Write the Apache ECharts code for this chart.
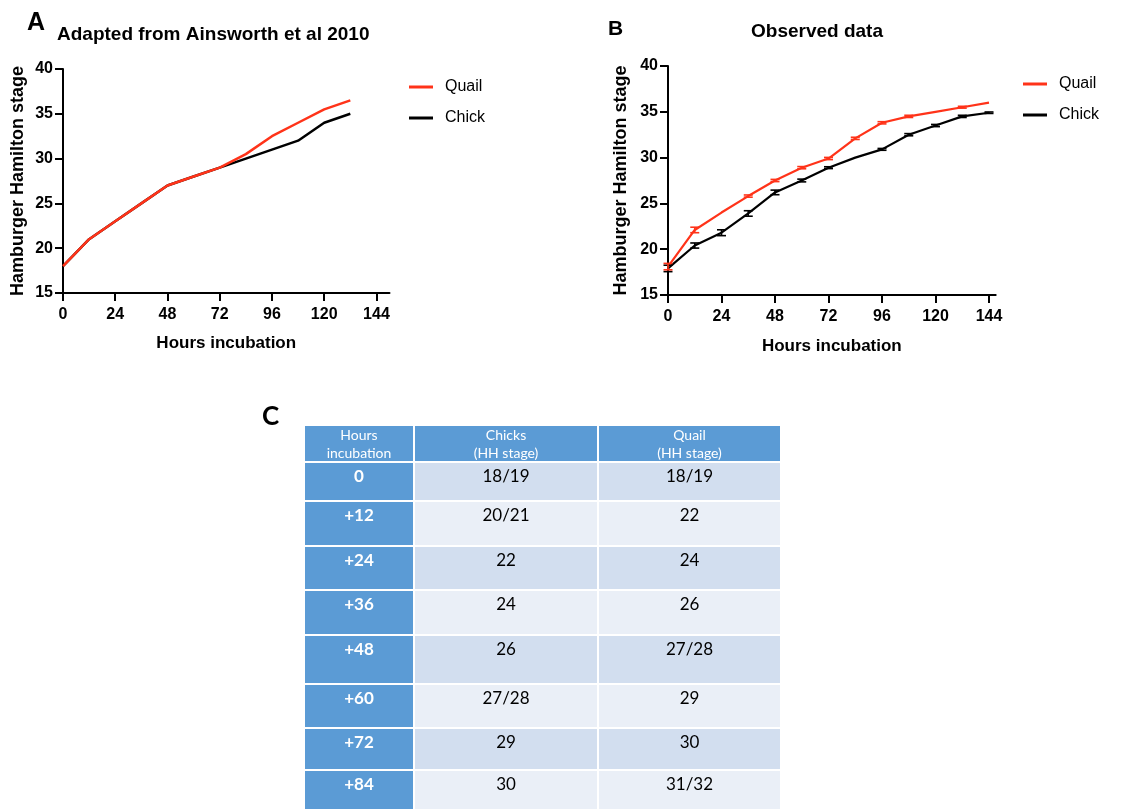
<!DOCTYPE html>
<html><head><meta charset="utf-8">
<script src="https://cdn.jsdelivr.net/npm/echarts@6.0.0/dist/echarts.min.js"></script>
<style>html,body{margin:0;padding:0;background:#fff}#c{width:1139px;height:809px}</style>
</head><body><div id="c"></div>
<script>
// ---------- data ----------
const hoursA = [0, 12, 24, 36, 48, 60, 72, 84, 96, 108, 120, 132];
const quailA = [18, 21, 23, 25, 27, 28, 29, 30.5, 32.5, 34, 35.5, 36.5];
const chickA = [18, 21, 23, 25, 27, 28, 29, 30, 31, 32, 34, 35];

const hoursB = [0, 12, 24, 36, 48, 60, 72, 84, 96, 108, 120, 132, 144];
const quailB = [18.1, 22.1, 24.0, 25.8, 27.5, 28.9, 29.9, 32.1, 33.8, 34.5, 35.0, 35.5, 36.0];
const quailErrB = [0.35, 0.3, 0, 0.12, 0.12, 0.12, 0.12, 0.12, 0.12, 0.12, 0, 0.1, 0];
const chickB = [17.9, 20.4, 21.8, 23.9, 26.2, 27.5, 28.9, 30.0, 30.9, 32.5, 33.5, 34.5, 34.9];
const chickErrB = [0.35, 0.28, 0.32, 0.3, 0.25, 0.15, 0.1, 0, 0.1, 0.12, 0.12, 0.12, 0.08];

const xTicks = [0, 24, 48, 72, 96, 120, 144];
const yTicks = [15, 20, 25, 30, 35, 40];

const tableHeader = ['Hours\nincubation', 'Chicks\n(HH stage)', 'Quail\n(HH stage)'];
const tableHours = ['0', '+12', '+24', '+36', '+48', '+60', '+72', '+84'];
const tableChicks = ['18/19', '20/21', '22', '24', '26', '27/28', '29', '30'];
const tableQuail = ['18/19', '22', '24', '26', '27/28', '29', '30', '31/32'];

// ---------- layout / style ----------
const F = '"Liberation Sans", Arial, sans-serif';
const RED = '#FF3319';
const BLACK = '#000000';
const BLUE = '#5B9BD5', BAND_D = '#D2DEEF', BAND_L = '#EAEFF7';
const colEdges = [0, 110, 294, 477];
const rowEdges = [0, 37, 76, 121, 165, 210, 259, 303, 345, 388];

function xAxisCfg(gi, max, gap) {
  return {
    type: 'value', gridIndex: gi, min: 0, max: max, interval: 24,
    name: 'Hours incubation', nameLocation: 'middle', nameGap: gap,
    nameTextStyle: { fontFamily: F, fontWeight: 'bold', fontSize: 17, color: '#000' },
    axisLine: { show: true, onZero: false, lineStyle: { color: '#000', width: 2 } },
    axisTick: { show: true, length: 8, lineStyle: { color: '#000', width: 2 }, customValues: xTicks },
    axisLabel: { color: '#000', fontFamily: F, fontWeight: 'bold', fontSize: 16, margin: 14, customValues: xTicks },
    splitLine: { show: false }
  };
}
function yAxisCfg(gi, gap) {
  return {
    type: 'value', gridIndex: gi, min: 15, max: 40, interval: 5,
    name: 'Hamburger Hamilton stage', nameLocation: 'middle', nameGap: gap,
    nameTextStyle: { fontFamily: F, fontWeight: 'bold', fontSize: 18, color: '#000' },
    axisLine: { show: true, onZero: false, lineStyle: { color: '#000', width: 2 } },
    axisTick: { show: true, length: 8, lineStyle: { color: '#000', width: 2 } },
    axisLabel: { color: '#000', fontFamily: F, fontWeight: 'bold', fontSize: 16, margin: 10 },
    splitLine: { show: false }
  };
}
function lineSeries(name, gi, xs, ys, color, width, z) {
  return {
    type: 'line', name: name, xAxisIndex: gi, yAxisIndex: gi,
    data: xs.map((x, i) => [x, ys[i]]),
    showSymbol: false, symbol: 'none', color: color,
    lineStyle: { color: color, width: width }, z: z, animation: false
  };
}
function errSeries(gi, xs, ys, es, color, z) {
  return {
    type: 'custom', name: 'err', xAxisIndex: gi, yAxisIndex: gi, silent: true, z: z,
    encode: { x: 0, y: 1 },
    data: xs.map((x, i) => [x, ys[i], es[i]]).filter(d => d[2] > 0),
    renderItem: function (params, api) {
      const x = api.value(0), y = api.value(1), e = api.value(2);
      const lo = api.coord([x, y - e]), hi = api.coord([x, y + e]);
      const w = 4.5, st = { stroke: color, lineWidth: 1.6 };
      return { type: 'group', children: [
        { type: 'line', shape: { x1: lo[0], y1: lo[1], x2: hi[0], y2: hi[1] }, style: st },
        { type: 'line', shape: { x1: lo[0] - w, y1: lo[1], x2: lo[0] + w, y2: lo[1] }, style: st },
        { type: 'line', shape: { x1: hi[0] - w, y1: hi[1], x2: hi[0] + w, y2: hi[1] }, style: st }
      ] };
    }
  };
}

const cells = [];
for (let r = 0; r <= tableHours.length; r++) for (let c = 0; c < 3; c++) cells.push([c, r]);

const tableSeries = {
  type: 'custom', name: 'table', xAxisIndex: 2, yAxisIndex: 2, silent: true,
  encode: { x: 0, y: 1 }, data: cells, clip: false,
  renderItem: function (params, api) {
    const c = api.value(0), r = api.value(1);
    const p0 = api.coord([colEdges[c], rowEdges[r]]);
    const p1 = api.coord([colEdges[c + 1] - 2, rowEdges[r + 1] - 2]);
    const x = p0[0], y = p0[1], w = p1[0] - p0[0], h = p1[1] - p0[1];
    let fill, text, color = '#000', font, ty, va = 'top';
    if (r === 0) {
      fill = BLUE; text = tableHeader[c]; color = '#fff';
      font = '14px Lato, sans-serif'; ty = y + h / 2 + 1; va = 'middle';
    } else if (c === 0) {
      fill = BLUE; text = tableHours[r - 1]; color = '#fff';
      font = 'bold 17px Lato, sans-serif'; ty = y + 5;
    } else {
      fill = (r % 2 === 1) ? BAND_D : BAND_L;
      text = c === 1 ? tableChicks[r - 1] : tableQuail[r - 1];
      font = '17px Lato, sans-serif'; ty = y + 5;
    }
    return { type: 'group', children: [
      { type: 'rect', shape: { x: x, y: y, width: w, height: h }, style: { fill: fill } },
      { type: 'text', style: { text: text, x: x + w / 2, y: ty, fill: color, font: font,
        align: 'center', verticalAlign: va, lineHeight: 18 } }
    ] };
  }
};

const legendCfg = (left, top) => ({
  left: left, top: top, orient: 'vertical', padding: 0, itemGap: 15,
  itemWidth: 24, itemHeight: 3, icon: 'rect', selectedMode: false,
  data: ['Quail', 'Chick'],
  textStyle: { fontFamily: F, fontSize: 16, color: '#000', padding: [0, 0, 0, 7] }
});

const chart = echarts.init(document.getElementById('c'), null, { renderer: 'canvas' });
chart.setOption({
  animation: false,
  backgroundColor: '#fff',
  title: [
    { text: 'A', left: 27, top: 11, padding: 0, textStyle: { fontFamily: F, fontWeight: 'bold', fontSize: 25, color: '#000' } },
    { text: 'Adapted from Ainsworth et al 2010', left: 57, top: 25, padding: 0, textStyle: { fontFamily: F, fontWeight: 'bold', fontSize: 19, color: '#000' } },
    { text: 'B', left: 608, top: 19, padding: 0, textStyle: { fontFamily: F, fontWeight: 'bold', fontSize: 21, color: '#000' } },
    { text: 'Observed data', left: 751, top: 22, padding: 0, textStyle: { fontFamily: F, fontWeight: 'bold', fontSize: 19, color: '#000' } },
    { text: 'C', left: 262, top: 404, padding: 0, textStyle: { fontFamily: 'Lato, sans-serif', fontWeight: 'bold', fontSize: 26, color: '#000' } }
  ],
  legend: [legendCfg(409, 79), legendCfg(1023, 76)],
  grid: [
    { left: 63, top: 69, width: 326.5, height: 224 },
    { left: 668, top: 66, width: 327.7, height: 229 },
    { left: 305, top: 426, width: 477, height: 383 }
  ],
  xAxis: [
    xAxisCfg(0, 150, 42),
    xAxisCfg(1, 147, 43),
    { type: 'value', gridIndex: 2, min: 0, max: 477, show: false }
  ],
  yAxis: [
    yAxisCfg(0, 36),
    yAxisCfg(1, 38),
    { type: 'value', gridIndex: 2, min: 0, max: 383, inverse: true, show: false }
  ],
  series: [
    lineSeries('Chick', 0, hoursA, chickA, BLACK, 2.5, 2),
    lineSeries('Quail', 0, hoursA, quailA, RED, 2.5, 3),
    lineSeries('Chick', 1, hoursB, chickB, BLACK, 2.2, 2),
    lineSeries('Quail', 1, hoursB, quailB, RED, 2.2, 3),
    errSeries(1, hoursB, chickB, chickErrB, BLACK, 4),
    errSeries(1, hoursB, quailB, quailErrB, RED, 5),
    tableSeries
  ]
});
</script>
</body></html>
